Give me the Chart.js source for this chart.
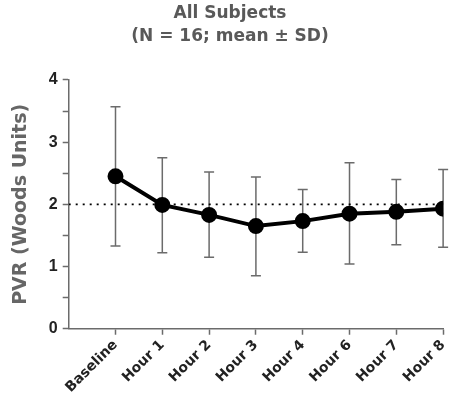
<!DOCTYPE html>
<html>
<head>
<meta charset="utf-8">
<script src="https://cdn.jsdelivr.net/npm/chart.js@4/dist/chart.umd.min.js"></script>
<style>
  html, body { margin: 0; padding: 0; background: #fff; }
  #wrap { width: 457px; height: 403px; }
</style>
</head>
<body>
<div id="wrap"><canvas id="pvr-chart"></canvas></div>
<script>
// data
const categories = ["Baseline", "Hour 1", "Hour 2", "Hour 3", "Hour 4", "Hour 6", "Hour 7", "Hour 8"];
const meanPVR = [2.45, 1.99, 1.83, 1.65, 1.73, 1.85, 1.88, 1.93];
const sdUpper = [3.57, 2.75, 2.52, 2.44, 2.24, 2.67, 2.40, 2.56];
const sdLower = [1.33, 1.22, 1.15, 0.85, 1.23, 1.04, 1.35, 1.31];
const referenceLevel = 2;
const yTicks = [0, 1, 2, 3, 4];

// error bars, drawn under the line
const errorBars = {
    id: "errorBars",
    beforeDatasetsDraw(chart) {
        const ctx = chart.ctx;
        const xs = chart.scales.x;
        const ys = chart.scales.y;
        ctx.save();
        ctx.strokeStyle = "#6b6b6b";
        ctx.lineWidth = 1.5;
        categories.forEach((c, i) => {
            const x = xs.getPixelForValue(i);
            const top = ys.getPixelForValue(sdUpper[i]);
            const bot = ys.getPixelForValue(sdLower[i]);
            ctx.beginPath();
            ctx.moveTo(x, top);
            ctx.lineTo(x, bot);
            ctx.moveTo(x - 5, top);
            ctx.lineTo(x + 5, top);
            ctx.moveTo(x - 5, bot);
            ctx.lineTo(x + 5, bot);
            ctx.stroke();
        });
        ctx.restore();
    }
};

const chartData = {
    datasets: [
        {
            label: "Mean",
            data: meanPVR.map((v, i) => ({ x: i, y: v })),
            borderColor: "#000",
            backgroundColor: "#000",
            borderWidth: 4,
            pointRadius: 6,
            pointHoverRadius: 6,
            tension: 0,
            order: 1,
        },
        {
            label: "Reference",
            data: [{ x: -1, y: referenceLevel }, { x: categories.length - 1, y: referenceLevel }],
            borderColor: "#000",
            borderWidth: 1.8,
            borderDash: [2, 5],
            pointRadius: 0,
            order: 2,
        },
    ],
};

const config = {
    type: "line",
    data: chartData,
    options: {
        responsive: true,
        maintainAspectRatio: false,
        animation: false,
        layout: { padding: { left: 10, right: 7, top: 0, bottom: 5 } },
        scales: {
            x: {
                type: "linear",
                min: -1,
                max: categories.length - 1,
                afterBuildTicks: (scale) => {
                    scale.ticks = categories.map((c, i) => ({ value: i }));
                },
                ticks: {
                    autoSkip: false,
                    minRotation: 45,
                    maxRotation: 45,
                    color: "#222",
                    font: { family: "DejaVu Sans", size: 14, weight: "bold" },
                    padding: 2,
                    callback: (v) => categories[v],
                },
                grid: {
                    display: true,
                    drawOnChartArea: false,
                    drawTicks: true,
                    tickLength: 6,
                    tickColor: "#6b6b6b",
                    tickWidth: 1.5,
                },
                border: { display: true, color: "#6b6b6b", width: 1.5 },
            },
            y: {
                min: 0,
                max: 4,
                afterBuildTicks: (scale) => {
                    const t = [];
                    for (let v = 0; v <= 4; v += 0.5) t.push({ value: v });
                    scale.ticks = t;
                },
                ticks: {
                    autoSkip: false,
                    color: "#222",
                    font: { family: "Liberation Sans", size: 16, weight: "bold" },
                    padding: 5,
                    callback: (v) => (yTicks.includes(v) ? String(v) : ""),
                },
                grid: {
                    display: true,
                    drawOnChartArea: false,
                    drawTicks: true,
                    tickLength: 6,
                    tickColor: "#6b6b6b",
                    tickWidth: 1.5,
                },
                border: { display: true, color: "#6b6b6b", width: 1.5 },
                title: {
                    display: true,
                    text: "PVR (Woods Units)",
                    color: "#666",
                    font: { family: "DejaVu Sans", size: 19, weight: "bold" },
                    padding: { top: 0, bottom: 11 },
                },
            },
        },
        plugins: {
            legend: { display: false },
            tooltip: { enabled: false },
            title: {
                display: true,
                text: ["All Subjects", "(N = 16; mean \u00b1 SD)"],
                color: "#595959",
                font: { family: "DejaVu Sans", size: 17, weight: "bold", lineHeight: 1.35 },
                padding: { top: 2, bottom: 32 },
            },
        },
    },
    plugins: [errorBars],
};

new Chart(document.getElementById("pvr-chart"), config);
</script>
</body>
</html>
